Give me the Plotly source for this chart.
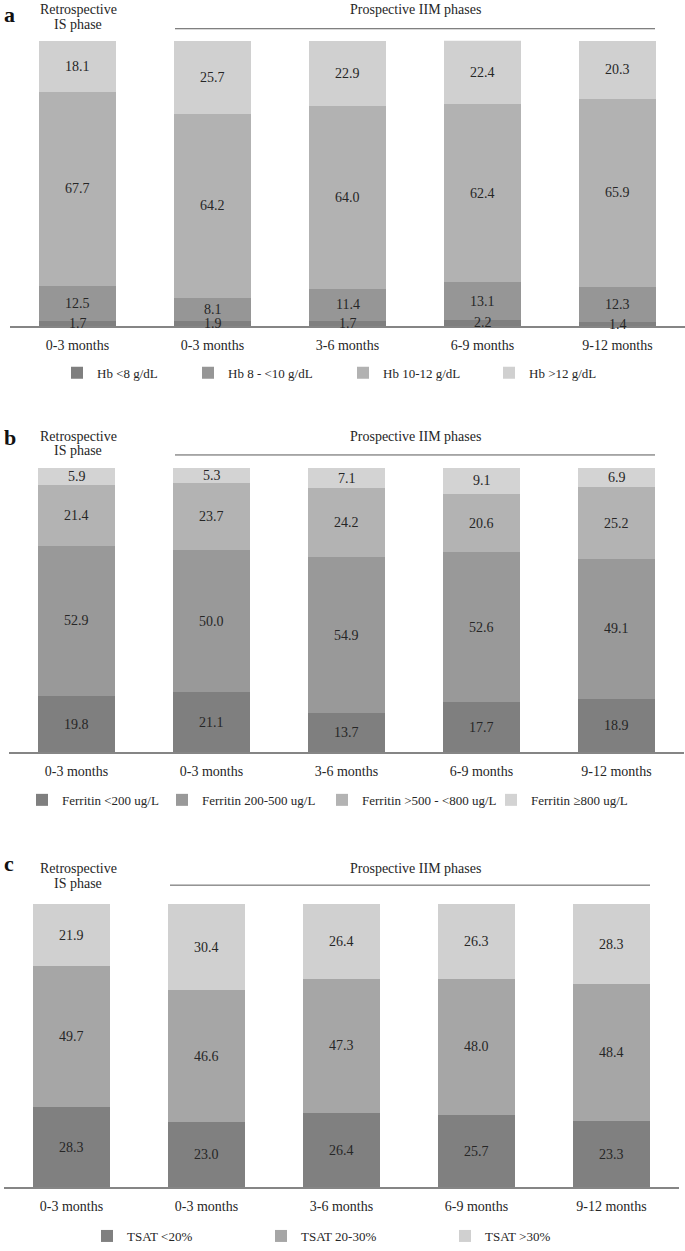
import plotly.graph_objects as go

categories = ["0-3 months", "0-3 months", "3-6 months", "6-9 months", "9-12 months"]

hb_names = ["Hb <8 g/dL", "Hb 8 - <10 g/dL", "Hb 10-12 g/dL", "Hb >12 g/dL"]
hb_lt8 = [1.7, 1.9, 1.7, 2.2, 1.4]
hb_8_10 = [12.5, 8.1, 11.4, 13.1, 12.3]
hb_10_12 = [67.7, 64.2, 64.0, 62.4, 65.9]
hb_gt12 = [18.1, 25.7, 22.9, 22.4, 20.3]

fer_names = ["Ferritin <200 ug/L", "Ferritin 200-500 ug/L", "Ferritin >500 - <800 ug/L", "Ferritin \u2265800 ug/L"]
fer_lt200 = [19.8, 21.1, 13.7, 17.7, 18.9]
fer_200_500 = [52.9, 50.0, 54.9, 52.6, 49.1]
fer_500_800 = [21.4, 23.7, 24.2, 20.6, 25.2]
fer_ge800 = [5.9, 5.3, 7.1, 9.1, 6.9]

tsat_names = ["TSAT <20%", "TSAT 20-30%", "TSAT >30%"]
tsat_lt20 = [28.3, 23.0, 26.4, 25.7, 23.3]
tsat_20_30 = [49.7, 46.6, 47.3, 48.0, 48.4]
tsat_gt30 = [21.9, 30.4, 26.4, 26.3, 28.3]

W, H = 685, 1251
FONT = "Liberation Serif, Times New Roman, serif"
TXT = "#262626"

def py(px):
    return 1 - px / H

def pxx(px):
    return px / W

panels = [
    dict(key="", names=hb_names, series=[hb_lt8, hb_8_10, hb_10_12, hb_gt12],
         colors=["#7f7f7f", "#969696", "#b2b2b2", "#d0d0d0"],
         top=41, bottom=329, xdom=(10, 685), legend="legend", legy=376,
         legx=57, legw=[86, 110, 101, 75],
         letter="a", lettery=None, hdr1=11, hdr2=26, liney=29, linex=(175, 655)),
    dict(key="2", names=fer_names, series=[fer_lt200, fer_200_500, fer_500_800, fer_ge800],
         colors=["#7f7f7f", "#999999", "#b3b3b3", "#d3d3d3"],
         top=472, bottom=759, xdom=(9, 684), legend="legend2", legy=807,
         legx=22, legw=[95, 115, 124, 110],
         letter="b", lettery=441, hdr1=441, hdr2=456, liney=459, linex=(175, 655)),
    dict(key="3", names=tsat_names, series=[tsat_lt20, tsat_20_30, tsat_gt30],
         colors=["#808080", "#a6a6a6", "#d0d0d0"],
         top=912, bottom=1198, xdom=(4, 679), legend="legend3", legy=1247,
         legx=87, legw=[129, 139, 72],
         letter="c", lettery=871, hdr1=877, hdr2=892, liney=893, linex=(170, 650)),
]

fig = go.Figure()
xpos = list(range(len(categories)))
annotations = []
shapes = []
layout = {}

for p in panels:
    k = p["key"]
    base = [0.0] * len(categories)
    for name, vals, col, lw in zip(p["names"], p["series"], p["colors"], p["legw"]):
        fig.add_trace(go.Bar(
            x=xpos, y=vals, name=name, marker=dict(color=col, line=dict(width=0)),
            xaxis="x" + k, yaxis="y" + k, legend=p["legend"], legendwidth=lw,
            hoverinfo="skip",
        ))
        for i, v in enumerate(vals):
            annotations.append(dict(
                text=f"{v:.1f}", x=xpos[i], y=base[i] + v / 2, xref="x" + k, yref="y" + k,
                showarrow=False, xanchor="center", yanchor="middle",
                font=dict(family=FONT, size=14, color=TXT)))
            base[i] += v
    layout["xaxis" + k] = dict(
        domain=[pxx(p["xdom"][0]), pxx(p["xdom"][1])], anchor="y" + k,
        range=[-0.5, 4.5], tickvals=xpos, ticktext=categories,
        showline=True, linecolor="#858585", linewidth=1.5, ticks="",
        showgrid=False, zeroline=False, fixedrange=True,
        tickfont=dict(family=FONT, size=14, color=TXT), ticklabelstandoff=5,
    )
    layout["yaxis" + k] = dict(
        domain=[py(p["bottom"]), py(p["top"])], anchor="x" + k,
        range=[0, 100], visible=False, fixedrange=True,
    )
    layout[p["legend"]] = dict(
        orientation="h", x=pxx(p["legx"]), xanchor="left", y=py(p["legy"]), yanchor="middle",
        traceorder="normal", font=dict(family=FONT, size=13, color=TXT),
        bgcolor="rgba(0,0,0,0)", itemwidth=30,
    )
    if p["lettery"] is None:
        annotations.append(dict(text="<b>" + p["letter"] + "</b>", x=pxx(2), y=1,
                                xref="paper", yref="paper", xanchor="left", yanchor="top",
                                showarrow=False, font=dict(family=FONT, size=22, color="#111111")))
    else:
        annotations.append(dict(text="<b>" + p["letter"] + "</b>", x=pxx(2), y=py(p["lettery"]),
                                xref="paper", yref="paper", xanchor="left", yanchor="middle",
                                showarrow=False, font=dict(family=FONT, size=22, color="#111111")))
    for txt, yy in (("Retrospective", p["hdr1"]), ("IS phase", p["hdr2"])):
        annotations.append(dict(text=txt, x=pxx(78), y=py(yy - 1),
                                xref="paper", yref="paper", xanchor="center", yanchor="middle",
                                showarrow=False, font=dict(family=FONT, size=14, color=TXT)))
    annotations.append(dict(text="Prospective IIM phases", x=pxx(415), y=py(p["hdr1"] - 1),
                            xref="paper", yref="paper", xanchor="center", yanchor="middle",
                            showarrow=False, font=dict(family=FONT, size=14, color=TXT)))
    shapes.append(dict(type="line", xref="paper", yref="paper",
                       x0=pxx(p["linex"][0]), x1=pxx(p["linex"][1]),
                       y0=py(p["liney"]), y1=py(p["liney"]),
                       line=dict(color="#595959", width=1)))

fig.update_layout(
    width=W, height=H, margin=dict(l=0, r=0, t=0, b=0),
    paper_bgcolor="white", plot_bgcolor="white",
    barmode="stack", bargap=0.43,
    annotations=annotations, shapes=shapes,
    **layout,
)

fig.write_html("out.html", config={"displayModeBar": False},
               post_script="document.body.style.margin='0';document.body.style.overflow='hidden';")
